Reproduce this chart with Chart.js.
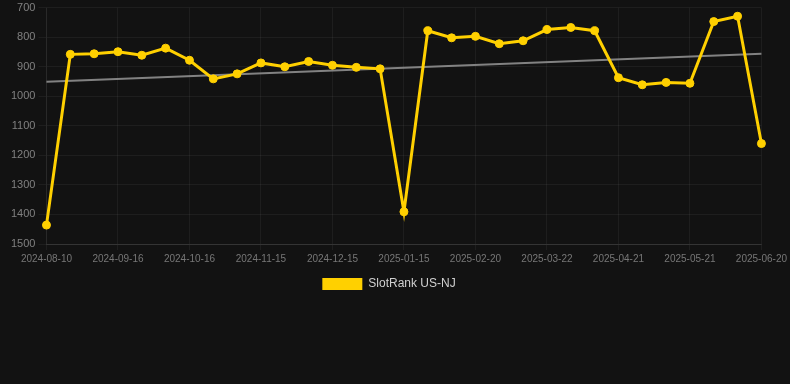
<!DOCTYPE html>
<html><head><meta charset="utf-8">
<script src="https://cdn.jsdelivr.net/npm/chart.js@4"></script>
<style>html,body{margin:0;padding:0;background:#121212;}#wrap{width:790px;height:384px;}</style>
</head><body><div id="wrap"><canvas id="c"></canvas></div>
<script>
const labels = ["2024-08-10","2024-08-22","2024-09-04","2024-09-16","2024-09-26","2024-10-06","2024-10-16","2024-10-26","2024-11-05","2024-11-15","2024-11-25","2024-12-05","2024-12-15","2024-12-25","2025-01-05","2025-01-15","2025-01-27","2025-02-08","2025-02-20","2025-03-02","2025-03-12","2025-03-22","2025-04-01","2025-04-11","2025-04-21","2025-05-01","2025-05-11","2025-05-21","2025-05-31","2025-06-10","2025-06-20"];
const rank = [1436,858,856,849,861,837,878,941,924,887,900,882,895,902,907,1391,778,802,797,822,812,774,767,778,937,961,953,956,747,729,1160];
const trendStart = 951;
const trendEnd = 856;
const trend = labels.map((_, i) => i === 0 ? trendStart : (i === labels.length - 1 ? trendEnd : null));
const yTicks = [700,800,900,1000,1100,1200,1300,1400,1500];

const shiftLegend = {
  id: 'shiftLegend',
  afterLayout(chart) { if (chart.legend) { chart.legend.left -= 8; chart.legend.right -= 8; } }
};

new Chart(document.getElementById('c'), {
  type: 'line',
  data: {
    labels: labels,
    datasets: [
      {label: 'SlotRank US-NJ', data: rank, borderColor: '#FFD000', backgroundColor: '#FFD000',
       borderWidth: 3, pointRadius: 4, pointBorderWidth: 1, pointHoverRadius: 4, tension: 0},
      {label: 'trend', data: trend, borderColor: 'rgba(150,150,150,0.85)', borderWidth: 2,
       pointRadius: 0, spanGaps: true, tension: 0}
    ]
  },
  options: {
    responsive: true, maintainAspectRatio: false, animation: false,
    layout: {padding: {left: 8, right: 4, top: 0, bottom: 84}},
    plugins: {
      legend: {position: 'bottom',
        labels: {boxWidth: 40, boxHeight: 12, color: '#d0d0d0',
                 font: {family: 'Liberation Sans, Arial', size: 12},
                 generateLabels: (chart) => Chart.defaults.plugins.legend.labels.generateLabels(chart)
                   .filter(l => l.text !== 'trend').map(l => Object.assign(l, {lineWidth: 0}))}},
      tooltip: {enabled: false}
    },
    scales: {
      x: {
        grid: {color: 'rgba(255,255,255,0.05)', tickLength: 6},
        border: {color: 'rgba(255,255,255,0.1)'},
        ticks: {color: '#777', maxRotation: 0, autoSkip: true,
                font: {family: 'Liberation Sans, Arial', size: 10}}
      },
      y: {
        reverse: true, min: 700, max: 1500,
        afterBuildTicks: (ax) => { ax.ticks = yTicks.map(v => ({value: v})); },
        grid: {color: 'rgba(255,255,255,0.05)', tickLength: 8},
        border: {color: 'rgba(255,255,255,0.05)'},
        ticks: {color: '#808080', font: {family: 'Liberation Sans, Arial', size: 11, lineHeight: 0.85},
                callback: (v) => String(v)}
      }
    }
  },
  plugins: [shiftLegend]
});
</script></body></html>
